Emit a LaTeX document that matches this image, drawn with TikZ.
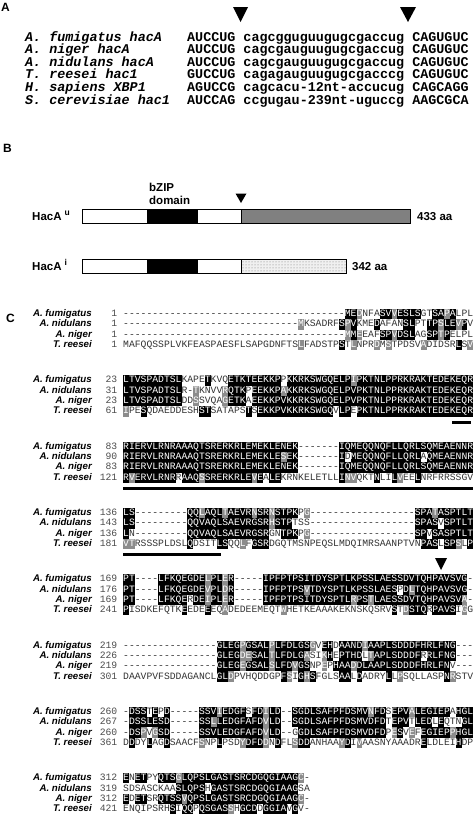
\documentclass[tikz,border=0pt]{standalone}
\usepackage{fontspec}
\setmainfont{Liberation Sans}
\newfontfamily\monof{Liberation Mono}
\usetikzlibrary{patterns}
\definecolor{shgray}{gray}{0.55}
\definecolor{seqtxt}{gray}{0.2}
\definecolor{numtxt}{gray}{0.3}
\definecolor{barg}{gray}{0.5}
\ExplSyntaxOn
\cs_new:Npn \dsh #1 {\prg_replicate:nn{#1}{-}}
\ExplSyntaxOff
\newcommand\sqs{\rule[-2.7pt]{0pt}{10.3pt}}
\newcommand\SB[1]{{\fboxsep=0pt\colorbox{black}{\sqs\textcolor{white}{#1}}}}
\newcommand\SG[1]{{\fboxsep=0pt\colorbox{shgray}{\sqs\textcolor{white}{#1}}}}
\newcommand\seqrow[5]{%
  \pgfmathsetmacro\yy{314+66.3*#1+10.3*#2+2.6}%
  \node[nmlab] (nm-#1-#2) at (92,\yy) {#3};%
  \node[numlab] (nu-#1-#2) at (117.5,\yy) {#4};%
  \node[seqlab] (sq-#1-#2) at (123,\yy) {#5};%
}
\newcommand\parow[3]{%
  \pgfmathsetmacro\yy{37+12.6*#1+4}%
  \node[paname] (pan-#1) at (25,\yy) {#2};%
  \node[paseq] (pas-#1) at (187,\yy) {#3};%
}
\tikzset{
  nmlab/.style={anchor=base east, inner sep=0pt, font=\fontsize{9.7}{10}\selectfont\bfseries\itshape},
  numlab/.style={anchor=base east, inner sep=0pt, font=\monof\fontsize{9.72}{10}\selectfont, text=numtxt},
  seqlab/.style={anchor=base west, inner sep=0pt, font=\monof\fontsize{9.72}{10}\selectfont, text=seqtxt},
  paname/.style={anchor=base west, inner sep=0pt, font=\monof\bfseries\itshape\fontsize{13.4}{14}\selectfont},
  paseq/.style={anchor=base west, inner sep=0pt, font=\monof\bfseries\fontsize{13.4}{14}\selectfont},
  panlab/.style={anchor=north west, inner sep=0pt, font=\fontsize{12}{12}\selectfont\bfseries},
  blab/.style={inner sep=0pt, font=\fontsize{11.5}{12}\selectfont\bfseries},
  tri/.style={fill=black},
  bar/.style={draw=black, line width=0.8pt},
  uline/.style={line width=2.6pt}
}
\begin{document}
\begin{tikzpicture}[x=1pt,y=-1pt]
\fill[white] (0,0) rectangle (474,814);
\useasboundingbox (0,0) rectangle (474,814);

% ---------- Panel A ----------
\node[panlab] (labA) at (1,3) {A};
\fill[tri] (233,7) -- (248,7) -- (240.5,22) -- cycle;
\fill[tri] (400,7) -- (416,7) -- (408,22) -- cycle;
\parow{0}{A. fumigatus hacA}{AUCCUG cagcgguguugugcgaccug CAGUGUC}
\parow{1}{A. niger hacA}{AUCCUG cagcgauguugugcgaccug CAGUGUC}
\parow{2}{A. nidulans hacA}{AUCCUG cagcgauguugugcgaccug CAGUGUC}
\parow{3}{T. reesei hac1}{GUCCUG cagagauguugugcgacccg CAGUGUC}
\parow{4}{H. sapiens XBP1}{AGUCCG cagcacu-12nt-accucug CAGCAGG}
\parow{5}{S. cerevisiae hac1}{AUCCAG ccgugau-239nt-uguccg AAGCGCA}

% ---------- Panel B ----------
\node[panlab] (labB) at (3,144) {B};
\node[blab, anchor=base west] (bzip) at (149,191) {bZIP};
\node[blab, anchor=base west] (bdom) at (149,204) {domain};
\fill[tri] (235.5,193.5) -- (246.5,193.5) -- (241,203) -- cycle;
% unspliced
\fill[black] (147,209) rectangle (198,223);
\fill[barg] (241,209) rectangle (410,223);
\draw[bar] (82,209) rectangle (410,223);
\draw[bar] (241,209) -- (241,223);
\node[blab, anchor=base west] (hu) at (32,220.5) {HacA\hspace{3pt}\raisebox{5.5pt}{\fontsize{8.5}{9}\selectfont u}};
\node[blab, anchor=base west] (su) at (417,220.5) {433 aa};
% induced
\fill[black] (147,259) rectangle (198,273);
\fill[black!6] (241,259) rectangle (346,273);
\fill[pattern=dots, pattern color=black!55] (241,259) rectangle (346,273);
\draw[bar] (82,259) rectangle (346,273);
\draw[bar] (241,259) -- (241,273);
\node[blab, anchor=base west] (hi) at (32,270.5) {HacA\hspace{3pt}\raisebox{5.5pt}{\fontsize{8.5}{9}\selectfont i}};
\node[blab, anchor=base west] (si) at (352,270.5) {342 aa};

% ---------- Panel C ----------
\node[panlab] (labC) at (6,314) {C};

\seqrow{0}{0}{A. fumigatus}{1}{\dsh{38}\SB{ME}\SG{D}NFA\SB{SV}\SG{V}\SB{ESLS}GT\SB{SA}\SG{P}\SB{A}LPL}
\seqrow{0}{1}{A. nidulans}{1}{\dsh{30}\SG{M}KSADRF\SB{S}\SG{P}\SB{V}KME\SB{D}AFAN\SB{SL}PT\SB{TP}\SG{S}\SB{LE}\SG{V}\SB{P}V}
\seqrow{0}{2}{A. niger}{1}{\dsh{38}\SG{M}\SB{M}\SG{E}EAF\SB{SP}\SG{V}\SB{DSL}AG\SB{SP}\SG{T}\SB{P}ELPL}
\seqrow{0}{3}{T. reesei}{1}{MAFQQSSPLVKFEASPAESFLSAPGDNFTS\SG{L}FADSTP\SB{S}T\SG{L}NPR\SG{D}M\SG{S}TPDSV\SG{A}DIDSR\SB{L}S\SG{V}}

\seqrow{1}{0}{A. fumigatus}{23}{\SB{LTVSPADTSL}KAPE\SB{T}KVQ\SB{ETKTEEKKP}P\SB{KKRKSWGQELP}\SG{I}\SB{PKTNLPPRKRAKTEDEKEQR}}
\seqrow{1}{1}{A. nidulans}{31}{\SB{LTVSPADTSL}R-\SG{T}KNVV\SG{R}\SB{QTK}P\SB{EEKKP}\SG{A}\SB{KKRKSWGQELPVPKTNLPPRKRAKTEDEKEQR}}
\seqrow{1}{2}{A. niger}{23}{\SB{LTVSPADTSL}DD\SG{S}SVQA\SG{G}\SB{ETK}A\SB{EEKKPVKKRKSWGQELPVPKTNLPPRKRAKTEDEKEQR}}
\seqrow{1}{3}{T. reesei}{61}{\SG{I}PE\SB{S}QDAEDDESH\SB{ST}SATAPS\SB{T}S\SB{EKKPVKKRKSWGQ}V\SB{LP}E\SB{PKTNLPPRKRAKTEDEKEQR}}

\seqrow{2}{0}{A. fumigatus}{83}{\SB{RIERVLRNRAAAQTSRERKRLEMEKLENEK}\dsh{7}\SB{IQMEQQNQFLLQRLSQMEAENNR}}
\seqrow{2}{1}{A. nidulans}{90}{\SB{RIERVLRNRAAAQTSRERKRLEMEKLE}\SG{S}\SB{EK}\dsh{7}\SB{I}D\SB{MEQQNQFLLQRL}A\SB{QMEAENNR}}
\seqrow{2}{2}{A. niger}{83}{\SB{RIERVLRNRAAAQTSRERKRLEMEKLENEK}\dsh{7}\SB{IQMEQQNQFLLQRLSQMEAENNR}}
\seqrow{2}{3}{T. reesei}{121}{\SB{R}\SG{V}\SB{ERVLRNR}R\SB{AAQ}\SG{S}\SB{SRERKRLE}\SG{V}\SB{E}A\SB{LE}KRNKELETLL\SB{I}\SG{NV}QKT\SB{N}LI\SB{L}\SG{V}EE\SB{L}NRFRRSSGV}

\seqrow{3}{0}{A. fumigatus}{136}{\SB{LS}\dsh{9}\SB{QQ}\SG{L}\SB{AQL}\SG{T}\SB{AEVR}\SG{N}\SB{SR}\SG{N}\SB{STPK}P\SG{G}\dsh{18}\SB{SPA}\SG{T}\SB{ASPTLT}}
\seqrow{3}{1}{A. nidulans}{143}{\SB{LS}\dsh{9}\SB{QQVAQLSAEVRGSR}\SG{H}\SB{STP}TSS\dsh{18}\SB{SPAS}V\SB{SPTLT}}
\seqrow{3}{2}{A. niger}{136}{\SB{L}N\dsh{9}\SB{QQVAQLSAEVRGSR}GN\SB{TPK}P\SG{G}\dsh{18}\SB{SP}V\SB{SASPTLT}}
\seqrow{3}{3}{T. reesei}{181}{\SG{VT}RSSSPLDSL\SB{Q}DSIT\SB{LS}QQ\SG{L}F\SB{GSR}DGQTMSNPEQSLMDQIMRSAANPTVN\SB{PAS}L\SB{SP}\SG{S}L\SB{P}}

\seqrow{4}{0}{A. fumigatus}{169}{\SB{PT}\dsh{4}\SB{LFKQEGDE}\SG{L}\SB{PL}\SG{E}\SB{R}\dsh{5}\SB{IPFPTPSITDYSPTLKPSSLAESSDVTQHPAVSVG}-}
\seqrow{4}{1}{A. nidulans}{176}{\SB{PT}\dsh{4}\SB{LFKQEGDE}\SG{V}\SB{PL}\SG{D}\SB{R}\dsh{5}\SB{IPFPTPS}\SG{V}\SB{TDYSPTLKPSSLAES}P\SB{D}\SG{L}\SB{TQHPAVSVG}-}
\seqrow{4}{2}{A. niger}{169}{\SB{PT}\dsh{4}\SB{LFKQE}R\SB{DE}\SG{I}\SB{PL}\SG{E}\SB{R}\dsh{5}\SB{IPFPTPSITDYSPTL}\SG{R}\SB{PS}\SG{T}\SB{LAESSDVTQHPAVSV}\SG{A}-}
\seqrow{4}{3}{T. reesei}{241}{\SB{P}ISDKEFQTK\SB{E}EDE\SB{E}EQ\SG{A}DEDEEMEQT\SG{W}HETKEAAAKEKNSKQSRV\SB{S}T\SG{D}\SB{STQ}R\SB{PAVS}I\SG{G}G}

\seqrow{5}{0}{A. fumigatus}{219}{\dsh{16}\SB{GLEG}\SG{P}\SB{GSAL}\SG{P}\SB{LFDLGS}\SG{G}V\SB{EH}D\SB{AAND}\SG{I}\SB{AAPLSDDDFHRLFNG}\dsh{3}}
\seqrow{5}{1}{A. nidulans}{226}{\dsh{16}\SB{GLEG}\SG{DE}\SB{SAL}\SG{T}\SB{LFDLG}\SG{A}SI\SG{K}\SB{H}E\SB{PTHD}L\SG{T}\SB{APLSDDDF}R\SB{RLFNG}\dsh{3}}
\seqrow{5}{2}{A. niger}{219}{\dsh{16}\SB{GLEG}\SG{E}\SB{GSAL}\SG{S}\SB{LFD}\SG{V}\SB{GS}NP\SG{E}P\SB{HAA}\SG{D}\SB{DLAAPLSDDDFHRLFN}V\dsh{3}}
\seqrow{5}{3}{T. reesei}{301}{DAAVPVFSDDAGANCL\SB{GL}\SG{D}PVHQDDGP\SB{F}\SG{S}I\SB{G}\SG{H}\SB{S}FGLS\SB{AA}L\SB{D}ADRY\SB{L}L\SG{P}SQLLASP\SB{N}\SG{R}STV}

\seqrow{6}{0}{A. fumigatus}{260}{-\SB{DSS}T\SB{E}P\SB{D}\dsh{5}\SB{SSV}\SG{I}\SB{EDGF}S\SB{FD}\SG{I}\SB{LD}\dsh{2}\SB{SGDLSAFPFDSMV}\SG{N}\SB{FD}S\SB{EPV}\SG{A}\SB{LEGIEP}A\SB{HGL}}
\seqrow{6}{1}{A. nidulans}{267}{-\SB{DSSLESD}\dsh{5}\SB{SS}\SG{L}\SB{LEDGFAFD}\SG{V}\SB{LD}\dsh{2}\SB{SGDLSAFPFDSMVDFD}T\SB{EPV}T\SB{LED}L\SB{E}QTN\SB{GL}}
\seqrow{6}{2}{A. niger}{260}{-\SB{DS}\SG{P}V\SG{G}\SB{SD}\dsh{5}\SB{SSVLEDGFAFD}\SG{V}\SB{LD}\dsh{2}G\SB{GDLSAFPFDSMVDFD}P\SG{E}\SB{S}V\SG{E}F\SB{EGIEP}\SG{P}\SB{HGL}}
\seqrow{6}{3}{T. reesei}{361}{D\SB{D}DY\SB{L}AG\SB{D}SAACF\SG{S}NP\SB{L}PSD\SG{Y}\SB{DFD}\SG{D}N\SB{D}FL\SG{S}\SB{DD}ANHAA\SG{Y}\SB{D}I\SG{V}AASNYAAADR\SB{E}LDLEI\SB{H}DP}

\seqrow{7}{0}{A. fumigatus}{312}{\SB{E}N\SB{ET}PY\SB{QTS}\SG{G}\SB{LQPSLGASTSRCDGQGIAAG}\SG{C}-}
\seqrow{7}{1}{A. nidulans}{319}{SDSASCKAA\SB{SLQPS}H\SB{GASTSRCDGQGIAAG}SA}
\seqrow{7}{2}{A. niger}{312}{\SB{E}D\SB{ET}SR\SB{QTSS}\SG{V}\SB{QPSLGASTSRCDGQGIAAG}\SG{C}-}
\seqrow{7}{3}{T. reesei}{421}{ENQIPSRH\SB{S}I\SB{QQ}P\SB{QS}\SB{GAS}\SG{S}H\SB{GCD}D\SB{GGIA}V\SB{G}V-}

% underlines and splice mark
\coordinate (u1a) at (452,422.5); \coordinate (u1b) at (471,422.5);
\coordinate (u2a) at (123,488.5); \coordinate (u2b) at (473,488.5);
\coordinate (u3a) at (123,554.5); \coordinate (u3b) at (221,554.5);
\draw[uline] (u1a) -- (u1b);
\draw[uline] (u2a) -- (u2b);
\draw[uline] (u3a) -- (u3b);
\fill[tri] (435,558) -- (447,558) -- (441,570) -- cycle;
\end{tikzpicture}
\end{document}
